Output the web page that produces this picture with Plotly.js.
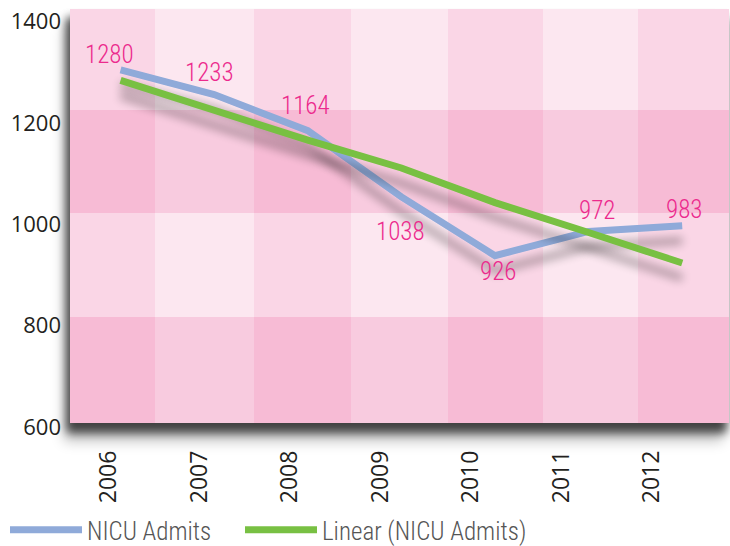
<!DOCTYPE html>
<html>
<head>
<meta charset="utf-8">
<script src="https://cdn.plot.ly/plotly-3.0.1.min.js"></script>
<style>
  html, body { margin: 0; padding: 0; background: #fff; }
  #chart { width: 730px; height: 546px; }
  .layer-below .shapelayer [data-index="0"] { filter: url(#bgShadow); }
  .cartesianlayer .scatterlayer .trace .js-line { filter: url(#lineShadow); }
  .legend .js-line, .legend2 .js-line { stroke-width: 7px !important; }
</style>
</head>
<body>
<svg width="0" height="0" style="position:absolute">
  <defs>
    <filter id="lineShadow" filterUnits="userSpaceOnUse" x="-200" y="-200" width="1400" height="1200">
      <feGaussianBlur in="SourceAlpha" stdDeviation="5"/>
      <feOffset dx="0" dy="15" result="off"/>
      <feComponentTransfer><feFuncA type="linear" slope="0.32"/></feComponentTransfer>
      <feMerge><feMergeNode/><feMergeNode in="SourceGraphic"/></feMerge>
    </filter>
    <filter id="bgShadow" filterUnits="userSpaceOnUse" x="-200" y="-200" width="1400" height="1200">
      <feGaussianBlur in="SourceAlpha" stdDeviation="5"/>
      <feOffset dx="-3" dy="9" result="off"/>
      <feComponentTransfer><feFuncA type="linear" slope="0.5"/></feComponentTransfer>
      <feMerge><feMergeNode/><feMergeNode in="SourceGraphic"/></feMerge>
    </filter>
  </defs>
</svg>
<div id="chart"></div>
<script>
// ---- data ----
const years = ['2006', '2007', '2008', '2009', '2010', '2011', '2012'];
const admits = [1280, 1233, 1164, 1038, 926, 972, 983];
const linearTrend = [1260, 1203, 1146, 1093, 1027, 970, 912];
const yTicks = [600, 800, 1000, 1200, 1400];
const seriesNames = ['NICU Admits', 'Linear (NICU Admits)'];

// ---- layout helpers (page pixels -> paper fractions) ----
const W = 730, H = 546;
const px = x => x / W;
const py = y => 1 - y / H;

const colEdges = [70, 155, 254, 351, 448, 543, 638, 729];
const rowEdges = [9, 110, 213, 317, 423];
const lightRow = ['#fad6e6', '#fce7f0'];
const darkRow = ['#f7bbd5', '#f8cbdf'];

const shapes = [{
  type: 'rect', xref: 'paper', yref: 'paper', layer: 'below',
  x0: px(colEdges[0]), x1: px(colEdges[colEdges.length - 1]),
  y0: py(rowEdges[rowEdges.length - 1]), y1: py(rowEdges[0]),
  fillcolor: '#f9d3e3', line: { width: 0 }
}];
for (let r = 0; r < rowEdges.length - 1; r++) {
  const pal = (r % 2 === 0) ? lightRow : darkRow;
  for (let c = 0; c < colEdges.length - 1; c++) {
    shapes.push({
      type: 'rect', xref: 'paper', yref: 'paper', layer: 'below',
      x0: px(colEdges[c]), x1: px(colEdges[c + 1]),
      y0: py(rowEdges[r + 1]), y1: py(rowEdges[r]),
      fillcolor: pal[c % 2], line: { width: 0 }
    });
  }
}

const labelShift = [[-11, 15], [-5, 22], [-2, 25], [-1, -35], [3, -16], [8, 21], [2, 16]];
const annotations = admits.map((v, i) => ({
  x: i, y: v, xref: 'x', yref: 'y', text: String(v), showarrow: false,
  xshift: labelShift[i][0], yshift: labelShift[i][1],
  font: { family: '"Roboto Condensed", "Open Sans", sans-serif', size: 25, weight: 300, color: '#ec2a8d' }
}));

const traces = [
  {
    type: 'scatter', mode: 'lines', name: seriesNames[0], legend: 'legend',
    x: years, y: admits, xaxis: 'x', yaxis: 'y',
    line: { color: '#8faad9', width: 7 }
  },
  {
    type: 'scatter', mode: 'lines', name: seriesNames[1], legend: 'legend2',
    x: years, y: linearTrend, xaxis: 'x', yaxis: 'y',
    line: { color: '#78c043', width: 7 }
  },
  {
    type: 'scatter', mode: 'markers', x: years, y: admits, xaxis: 'x2', yaxis: 'y2',
    marker: { opacity: 0 }, showlegend: false, hoverinfo: 'skip'
  }
];

const yTickFont = { family: '"Open Sans", sans-serif', size: 22, color: '#231f20' };
const xTickFont = { family: '"Open Sans", sans-serif', size: 23, color: '#231f20' };
const legendStyle = (xPix) => ({
  orientation: 'h', x: px(xPix), y: py(530), xanchor: 'left', yanchor: 'middle',
  font: { family: '"Roboto Condensed", "Open Sans", sans-serif', size: 25, weight: 300, color: '#555555' },
  itemwidth: 72, bgcolor: 'rgba(0,0,0,0)'
});

const layout = {
  width: W, height: H,
  margin: { l: 0, r: 0, t: 0, b: 0, autoexpand: false },
  paper_bgcolor: '#ffffff',
  plot_bgcolor: 'rgba(0,0,0,0)',
  showlegend: true,
  legend: legendStyle(5),
  legend2: legendStyle(240),
  xaxis: {
    type: 'category', domain: [px(70), px(729)], range: [-0.54, 6.5],
    showticklabels: false, showgrid: false, zeroline: false, showline: false, ticks: '',
    fixedrange: true
  },
  yaxis: {
    domain: [py(423), py(9)], range: [607, 1396],
    showticklabels: false, showgrid: false, zeroline: false, showline: false, ticks: '',
    fixedrange: true
  },
  xaxis2: {
    type: 'category', anchor: 'free', position: py(423),
    domain: [px(63.75), px(697.25)], range: [-0.5, 6.5],
    categoryorder: 'array', categoryarray: years,
    tickangle: -90, tickfont: xTickFont, ticks: '', ticklabelstandoff: 22,
    showgrid: false, zeroline: false, showline: false, fixedrange: true
  },
  yaxis2: {
    anchor: 'free', position: px(70),
    domain: [py(427.5), py(21)], range: [599, 1401],
    tickmode: 'array', tickvals: yTicks, ticktext: yTicks.map(String),
    tickfont: yTickFont, ticks: '', ticklabelstandoff: 9,
    showgrid: false, zeroline: false, showline: false, fixedrange: true
  },
  shapes: shapes,
  annotations: annotations
};

Plotly.newPlot('chart', traces, layout, { displayModeBar: false, staticPlot: true });
</script>
</body>
</html>
